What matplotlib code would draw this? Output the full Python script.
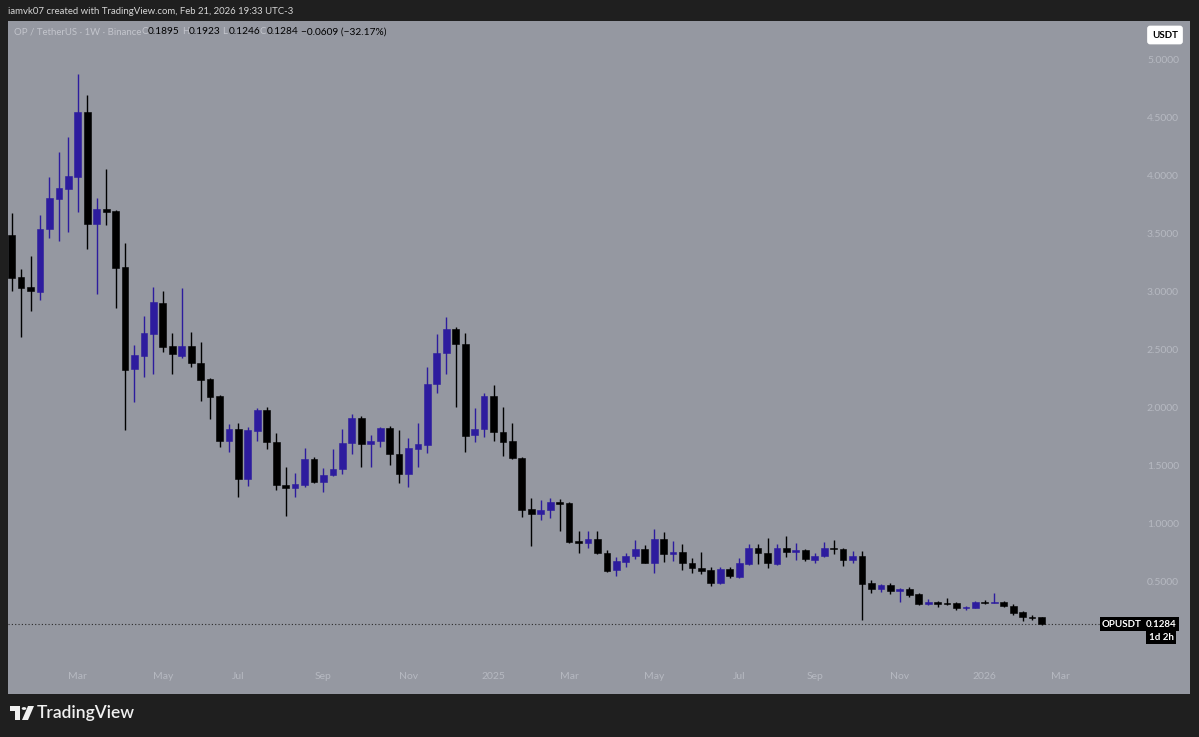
import numpy as np
import pandas as pd
import matplotlib
matplotlib.use('Agg')
import matplotlib.pyplot as plt
import matplotlib.dates as mdates
from matplotlib.patches import Rectangle, Polygon, Circle

plt.rcParams['font.family'] = ['Lato', 'DejaVu Sans']

# weekly OP/USDT candles (Binance), Jan 2024 - Feb 2026
week_start = pd.date_range('2024-01-15', periods=110, freq='7D')

opens = [3.483, 3.123, 3.032, 2.989, 3.532, 3.796, 3.879, 3.985, 4.546, 3.580,
         3.709, 3.692, 3.204, 2.330, 2.440, 2.629, 2.899, 2.526, 2.443, 2.528,
         2.382, 2.239, 2.095, 1.707, 1.807, 1.377, 1.796, 1.974, 1.701, 1.328,
         1.305, 1.328, 1.549, 1.351, 1.411, 1.463, 1.687, 1.908, 1.679, 1.707,
         1.816, 1.592, 1.422, 1.641, 1.672, 2.198, 2.468, 2.672, 2.543, 1.759,
         1.808, 2.095, 1.784, 1.707, 1.563, 1.120, 1.078, 1.112, 1.181, 1.170,
         0.845, 0.830, 0.862, 0.744, 0.595, 0.667, 0.716, 0.773, 0.658, 0.859,
         0.730, 0.747, 0.658, 0.609, 0.595, 0.480, 0.603, 0.537, 0.647, 0.787,
         0.739, 0.647, 0.787, 0.750, 0.770, 0.684, 0.718, 0.787, 0.779, 0.681,
         0.718, 0.485, 0.431, 0.466, 0.416, 0.431, 0.385, 0.299, 0.322, 0.313,
         0.308, 0.265, 0.270, 0.322, 0.313, 0.322, 0.284, 0.230, 0.192, 0.1895]
highs = [3.675, 3.187, 3.302, 3.655, 3.980, 4.198, 4.325, 4.871, 4.690, 3.804,
         4.049, 3.700, 3.416, 2.534, 2.784, 3.037, 3.003, 2.635, 3.028, 2.649,
         2.563, 2.250, 2.100, 1.853, 1.865, 1.830, 1.989, 1.997, 1.773, 1.485,
         1.428, 1.644, 1.571, 1.471, 1.635, 1.810, 1.940, 1.922, 1.759, 1.825,
         1.836, 1.802, 1.730, 1.865, 2.347, 2.627, 2.778, 2.692, 2.635, 1.989,
         2.118, 2.190, 1.997, 1.859, 1.570, 1.218, 1.198, 1.213, 1.209, 1.180,
         0.931, 0.931, 0.931, 0.767, 0.709, 0.744, 0.853, 0.810, 0.948, 0.920,
         0.845, 0.819, 0.696, 0.748, 0.618, 0.624, 0.624, 0.696, 0.819, 0.819,
         0.873, 0.819, 0.888, 0.825, 0.779, 0.739, 0.833, 0.853, 0.782, 0.759,
         0.761, 0.509, 0.474, 0.480, 0.437, 0.451, 0.394, 0.342, 0.330, 0.356,
         0.322, 0.287, 0.328, 0.336, 0.394, 0.328, 0.302, 0.244, 0.207, 0.1923]
lows = [3.003, 2.603, 2.830, 2.922, 3.454, 3.431, 3.506, 3.684, 3.362, 2.974,
        3.569, 2.853, 1.802, 2.046, 2.256, 2.284, 2.477, 2.282, 2.425, 2.348,
        2.054, 1.894, 1.658, 1.615, 1.227, 1.319, 1.710, 1.635, 1.284, 1.060,
        1.221, 1.307, 1.342, 1.270, 1.405, 1.422, 1.595, 1.480, 1.486, 1.653,
        1.500, 1.348, 1.307, 1.480, 1.606, 2.118, 2.284, 2.003, 1.615, 1.701,
        1.739, 1.710, 1.580, 1.554, 1.054, 0.799, 1.026, 1.046, 0.934, 0.825,
        0.739, 0.782, 0.733, 0.580, 0.546, 0.618, 0.687, 0.653, 0.572, 0.661,
        0.675, 0.595, 0.566, 0.560, 0.457, 0.474, 0.523, 0.529, 0.638, 0.647,
        0.614, 0.638, 0.710, 0.681, 0.675, 0.658, 0.710, 0.733, 0.632, 0.652,
        0.164, 0.399, 0.408, 0.388, 0.322, 0.365, 0.293, 0.293, 0.279, 0.293,
        0.250, 0.250, 0.264, 0.302, 0.307, 0.279, 0.207, 0.158, 0.164, 0.1246]
closes = [3.109, 3.023, 2.997, 3.534, 3.799, 3.885, 3.989, 4.546, 3.578, 3.709,
          3.684, 3.195, 2.319, 2.451, 2.635, 2.905, 2.520, 2.454, 2.528, 2.377,
          2.233, 2.089, 1.707, 1.807, 1.377, 1.802, 1.974, 1.701, 1.328, 1.305,
          1.333, 1.549, 1.351, 1.416, 1.468, 1.692, 1.908, 1.679, 1.709, 1.816,
          1.592, 1.422, 1.649, 1.681, 2.198, 2.468, 2.672, 2.540, 1.753, 1.810,
          2.095, 1.782, 1.701, 1.563, 1.112, 1.080, 1.112, 1.181, 1.164, 0.839,
          0.830, 0.862, 0.739, 0.589, 0.672, 0.718, 0.773, 0.658, 0.862, 0.730,
          0.747, 0.652, 0.609, 0.586, 0.480, 0.603, 0.543, 0.652, 0.787, 0.744,
          0.652, 0.787, 0.753, 0.767, 0.687, 0.718, 0.787, 0.779, 0.681, 0.718,
          0.477, 0.431, 0.466, 0.416, 0.431, 0.379, 0.299, 0.322, 0.302, 0.302,
          0.265, 0.279, 0.322, 0.313, 0.322, 0.284, 0.227, 0.187, 0.184, 0.1284]

price_ticks = [0.5, 1.0, 1.5, 2.0, 2.5, 3.0, 3.5, 4.0, 4.5, 5.0]
month_ticks = ['2024-03-04', '2024-05-06', '2024-07-01', '2024-09-02', '2024-11-04',
               '2025-01-06', '2025-03-03', '2025-05-05', '2025-07-07', '2025-09-01',
               '2025-11-03', '2026-01-05', '2026-03-02']
month_labels = ['Mar', 'May', 'Jul', 'Sep', 'Nov', '2025', 'Mar', 'May', 'Jul',
                'Sep', 'Nov', '2026', 'Mar']

BG = '#9598a1'
FRAME = '#1f1f1f'
UP = '#2d1c9e'
DOWN = '#000000'
FAINT = '#b6b9c1'

W, H = 1199, 737


def fx(px):
    return px / W


def fy(py):
    return 1 - py / H


fig = plt.figure(figsize=(W / 100, H / 100), dpi=100, facecolor=FRAME)
ax = fig.add_axes([fx(8), fy(694), fx(1190) - fx(8), fy(21) - fy(694)])
ax.set_facecolor(BG)
for s in ax.spines.values():
    s.set_visible(False)

x = mdates.date2num(week_start)
body_w = 5.0
for xi, o, h, l, c in zip(x, opens, highs, lows, closes):
    col = UP if c >= o else DOWN
    ax.vlines(xi, l, h, color=col, lw=1.0, zorder=2)
    bot = min(o, c)
    hgt = max(abs(c - o), 0.009)
    ax.add_patch(Rectangle((xi - body_w / 2, bot), body_w, hgt, facecolor=col,
                           edgecolor=col, lw=0.4, zorder=3))

ax.set_xlim(x[0] - 2.7, x[0] + 873)
ax.set_ylim(-0.474, 5.328)

ax.yaxis.tick_right()
ax.set_yticks(price_ticks)
ax.set_yticklabels(['%.4f' % v for v in price_ticks])
ax.tick_params(axis='y', direction='in', length=0, pad=-31, labelsize=7.5,
               labelcolor=FAINT)
ax.set_xticks(mdates.date2num(pd.to_datetime(month_ticks)))
ax.set_xticklabels(month_labels)
ax.tick_params(axis='x', direction='in', length=0, pad=-16, labelsize=7.5,
               labelcolor=FAINT)

# last price line and labels
last = closes[-1]
ax.axhline(last, xmin=0, xmax=(1103 - 8) / 1182, color='#2a2a2a', lw=0.8,
           ls=(0, (1, 2)), zorder=1)
ax.text((1122 - 8) / 1182, last, 'OPUSDT', transform=ax.get_yaxis_transform(),
        ha='center', va='center', color='white', fontsize=7, fontweight='bold',
        bbox=dict(boxstyle='square,pad=0.25', fc='black', ec='none'))
ax.text((1161 - 8) / 1182, last, '%.4f' % last, transform=ax.get_yaxis_transform(),
        ha='center', va='center', color='white', fontsize=7, fontweight='bold',
        bbox=dict(boxstyle='square,pad=0.25', fc='black', ec='none'))
fig.text(fx(1161), fy(637), '1d 2h', ha='center', va='center', color='white',
         fontsize=7, fontweight='bold',
         bbox=dict(boxstyle='square,pad=0.25', fc='black', ec='none'))

# USDT currency box
fig.text(fx(1165), fy(35), 'USDT', ha='center', va='center', color='black',
         fontsize=7, fontweight='bold',
         bbox=dict(boxstyle='round,pad=0.5,rounding_size=0.3', fc='white', ec='none'))

# header
fig.text(fx(8), fy(11), 'iamvk07 created with TradingView.com, Feb 21, 2026 19:33 UTC-3',
         ha='left', va='center', color='#d6d6d6', fontsize=6.9)
fig.text(fx(14), fy(32), 'OP / TetherUS · 1W · Binance', ha='left', va='center',
         color='#c3c5cc', fontsize=6.9)
legend_items = [('O', '0.1895', 141), ('H', '0.1923', 182), ('L', '0.1246', 222),
                ('C', '0.1284', 260)]
for letter, val, px in legend_items:
    fig.text(fx(px), fy(32), letter, ha='left', va='center', color='#c3c5cc', fontsize=6.9)
    fig.text(fx(px + 7), fy(32), val, ha='left', va='center', color='black', fontsize=7.3)
fig.text(fx(301), fy(32), '\u22120.0609 (\u221232.17%)', ha='left', va='center',
         color='black', fontsize=7.3)

# TradingView logo
logo = '#f0f0f0'
fig.patches.append(Rectangle((fx(10), fy(711)), fx(10), fy(706) - fy(711),
                             transform=fig.transFigure, fc=logo, ec='none'))
fig.patches.append(Rectangle((fx(15), fy(720)), fx(5), fy(706) - fy(720),
                             transform=fig.transFigure, fc=logo, ec='none'))
fig.patches.append(Circle((fx(24), fy(708.5)), fx(2.3), transform=fig.transFigure,
                          fc=logo, ec='none'))
fig.patches.append(Polygon([(fx(28), fy(706)), (fx(34), fy(706)), (fx(28), fy(720)),
                            (fx(22), fy(720))], closed=True, transform=fig.transFigure,
                           fc=logo, ec='none'))
fig.text(fx(37), fy(713), 'TradingView', ha='left', va='center', color=logo,
         fontsize=12.5, fontweight='semibold')

plt.savefig('out.png', dpi=100, facecolor=FRAME)
